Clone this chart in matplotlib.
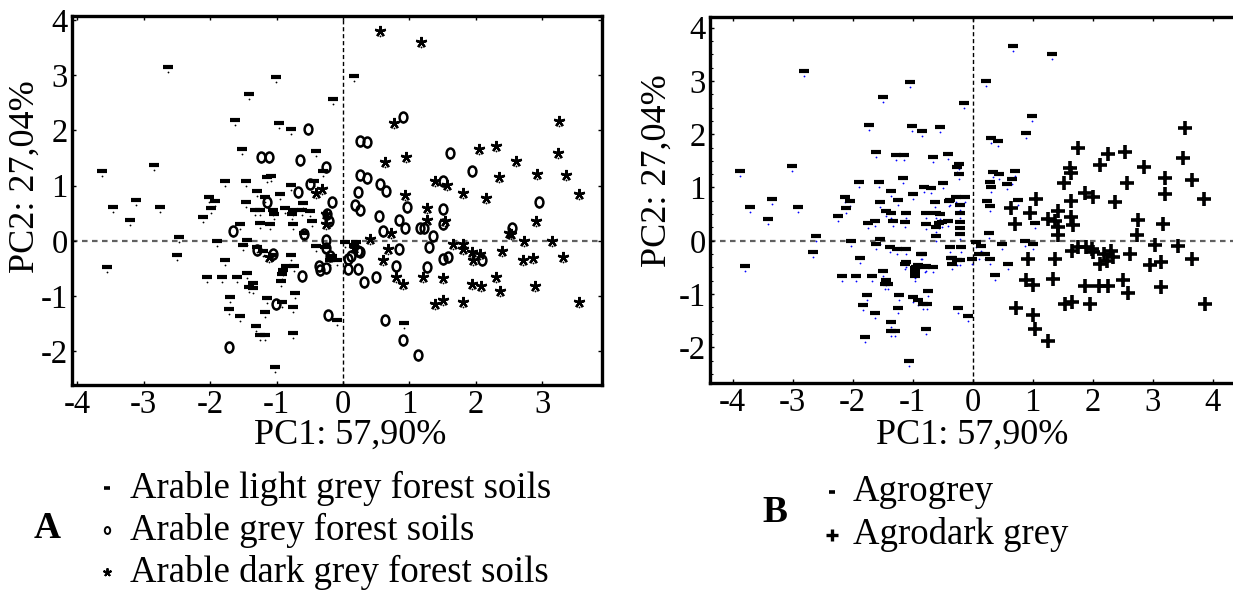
import numpy as np
import matplotlib.pyplot as plt
from matplotlib.lines import Line2D
from matplotlib.markers import MarkerStyle
from matplotlib.ticker import AutoMinorLocator
from matplotlib.transforms import Affine2D, ScaledTranslation

plt.rcParams['font.family'] = ['Liberation Serif', 'DejaVu Serif']
plt.rcParams['axes.unicode_minus'] = False

# ---- panel A: PC1 / PC2 scores by soil group ----
a_light = [(-3.63, 1.26), (-3.46, 0.61), (-3.56, -0.48), (-3.20, 0.37), (-3.12, 0.74), (-2.84, 1.38),
           (-2.75, 0.61), (-2.64, 3.15), (-2.47, 0.07), (-2.50, -0.25), (-2.11, 0.43), (-2.01, 0.79),
           (-1.92, 0.73), (-1.99, 0.59), (-1.90, -0.01), (-1.77, -0.35), (-2.05, -0.66), (-1.82, -0.66),
           (-1.59, -0.66), (-1.77, 1.08), (-1.46, 1.08), (-1.62, 2.18), (-1.52, 1.66), (-1.41, 2.66),
           (-1.01, 2.97), (-0.97, 2.13), (-0.79, 2.03), (-0.41, 1.62), (-0.15, 2.56), (0.17, 2.99),
           (-1.70, -1.01), (-1.72, -1.23), (-1.55, -1.36), (-1.31, -1.55), (-1.25, -1.71), (-1.18, -1.71),
           (-1.03, -2.28), (-0.76, -1.66), (-1.15, -1.03), (-1.17, -1.28), (-0.92, -1.11), (-0.75, -1.19),
           (-0.72, -0.95), (-1.45, -0.59), (-1.35, -0.77), (-1.41, -0.83), (-1.36, -0.85), (-0.90, -0.53),
           (-0.86, -0.46), (-0.74, -0.46), (-0.92, -0.60), (-0.79, -0.25), (-1.05, -0.25), (-1.20, -0.19),
           (-1.44, 0.01), (-1.50, -0.07), (-1.30, -0.11), (-1.55, 0.31), (-1.25, 0.33), (-1.10, 0.31),
           (-1.46, 0.70), (-1.32, 0.55), (-1.25, 0.55), (-1.30, 0.91), (-1.18, 0.79), (-1.06, 0.55),
           (-1.04, 0.49), (-0.95, 0.84), (-1.15, 1.15), (-1.09, 1.18), (-0.79, 1.01), (-0.75, 0.55),
           (-0.76, 0.31), (-0.60, 0.69), (-0.61, 0.55), (-0.50, 0.54), (-0.59, 0.15), (-0.47, 0.36),
           (-0.44, 1.08), (-0.30, 1.26), (-0.41, -0.09), (-0.27, -0.11), (-0.20, -0.35), (-0.09, -0.35),
           (-0.09, -1.43), (0.16, -0.08), (0.92, -1.48), (-0.77, 0.49), (-0.94, -0.72), (0.03, -0.03),
           (0.20, -0.03), (-0.17, -0.27), (-0.88, 0.60)]
a_grey = [(-0.52, 2.03), (-1.23, 1.51), (-1.11, 1.51), (-0.65, 1.47), (-0.26, 1.34), (-0.50, 1.02),
          (-0.68, 0.89), (-0.16, 0.70), (-1.15, 0.70), (-0.24, 0.48), (-0.21, 0.36), (-1.65, 0.18),
          (-0.59, 0.13), (-0.26, 0.01), (-0.26, -0.13), (-1.30, -0.17), (-1.05, -0.24), (-0.36, -0.45),
          (-0.25, -0.49), (-0.34, -0.53), (-0.62, -0.63), (-1.01, -1.15), (-0.23, -1.35), (-1.72, -1.92),
          (-0.20, -0.27), (0.07, -0.33), (0.08, -0.51), (0.23, -0.51), (0.31, -0.75), (0.49, -0.66),
          (0.26, -0.21), (0.26, 1.81), (0.36, 1.78), (0.26, 1.20), (0.36, 1.14), (0.22, 0.89),
          (0.18, 0.65), (0.25, 0.55), (0.56, 1.02), (0.65, 0.90), (0.54, 0.45), (0.61, 0.18),
          (0.85, -0.15), (0.80, -0.45), (0.90, 2.25), (0.85, 0.37), (0.93, 0.24), (0.96, 0.61),
          (0.63, -1.43), (0.91, -1.79), (1.61, 1.59), (1.95, 1.26), (1.50, 1.09), (1.50, 0.57),
          (1.50, 0.31), (1.16, 0.24), (1.22, 0.24), (1.35, 0.09), (1.30, -0.11), (1.51, -0.33),
          (1.58, -0.29), (1.27, -0.48), (2.10, -0.35), (2.54, 0.24), (2.95, 0.71), (1.13, -2.06),
          (0.12, -0.28), (0.23, -0.18)]
a_dark = [(0.56, 3.80), (1.18, 3.60), (0.77, 2.13), (0.63, 1.43), (0.95, 1.51), (0.93, 0.83),
          (1.27, 0.59), (1.26, 0.37), (1.53, 0.35), (1.38, 1.09), (1.56, 1.01), (2.05, 1.67),
          (2.31, 1.71), (1.81, 0.87), (2.16, 0.78), (2.35, 1.15), (2.60, 1.44), (2.92, 1.21),
          (3.25, 2.17), (3.23, 1.59), (3.36, 1.19), (3.55, 0.85), (2.91, 0.36), (2.50, 0.15),
          (2.72, -0.01), (3.15, -0.01), (3.32, -0.29), (2.86, -0.31), (2.71, -0.35), (2.39, -0.19),
          (1.65, -0.05), (1.80, -0.05), (1.81, -0.15), (1.94, -0.21), (1.96, -0.35), (2.06, -0.24),
          (1.95, -0.79), (2.08, -0.81), (2.31, -0.65), (2.37, -0.91), (2.89, -0.81), (3.56, -1.11),
          (1.81, -1.11), (1.51, -1.07), (1.38, -1.14), (1.50, -0.67), (1.20, -0.65), (0.90, -0.79),
          (0.80, -0.66), (0.61, -0.35), (0.68, -0.15), (0.73, 0.15), (0.40, 0.03), (0.17, -0.13),
          (-1.11, -0.30), (-0.41, 0.87), (-0.31, 0.93), (-0.26, 0.48), (-0.26, 0.31), (2.53, 0.12)]

# ---- panel B: agrogrey vs agrodark grey ----
b_grey = [(-3.88, 1.31), (-3.71, 0.63), (-3.80, -0.47), (-3.41, 0.40), (-3.34, 0.78), (-3.02, 1.40),
          (-2.91, 0.63), (-2.82, 3.18), (-2.62, 0.09), (-2.66, -0.22), (-2.24, 0.46), (-2.13, 0.83),
          (-2.05, 0.75), (-2.11, 0.61), (-2.03, -0.01), (-1.88, -0.33), (-2.18, -0.67), (-1.94, -0.67),
          (-1.68, -0.67), (-1.90, 1.11), (-1.57, 1.11), (-1.73, 2.18), (-1.62, 1.67), (-1.49, 2.69),
          (-1.04, 2.98), (-1.02, 2.16), (-0.84, 2.06), (-0.54, 2.14), (-0.66, 1.58), (-0.42, 1.62),
          (-1.28, 1.61), (-1.15, 1.61), (-1.17, 1.18), (-0.49, 1.09), (-0.27, 1.38), (-1.80, -1.81),
          (-1.77, -1.02), (-1.83, -1.21), (-1.63, -1.35), (-1.37, -1.53), (-1.37, -1.70), (-1.30, -1.70),
          (-1.06, -2.25), (-0.78, -1.66), (-1.23, -1.02), (-1.24, -1.27), (-0.99, -1.05), (-0.91, -1.11),
          (-0.76, -1.18), (-0.74, -0.95), (-1.49, -0.56), (-1.45, -0.74), (-1.47, -0.82), (-1.42, -0.82),
          (-0.97, -0.52), (-0.91, -0.46), (-0.78, -0.48), (-0.97, -0.61), (-0.84, -0.25), (-1.13, -0.44),
          (-1.26, -0.15), (-1.55, 0.04), (-1.61, -0.07), (-1.38, -0.11), (-1.11, -0.15), (-1.74, 0.33),
          (-1.63, 0.37), (-1.33, 0.37), (-1.13, 0.35), (-1.55, 0.73), (-1.44, 0.56), (-1.36, 0.53),
          (-1.37, 0.94), (-1.24, 0.77), (-1.11, 0.52), (-0.99, 0.87), (-0.81, 1.00), (-0.69, 0.99),
          (-0.78, 0.52), (-0.78, 0.31), (-0.63, 0.73), (-0.61, 0.52), (-0.55, 0.50), (-0.39, 0.74),
          (-0.51, 0.35), (-0.62, 0.26), (-0.41, 0.37), (-0.61, 0.08), (-0.38, -0.12), (-0.34, -0.32),
          (-0.27, -0.36), (-0.24, -1.27), (0.67, 3.66), (1.32, 3.50), (0.22, 3.00), (-0.15, 2.58),
          (0.99, 2.35), (0.88, 2.03), (0.31, 1.92), (0.42, 1.87), (-0.23, 1.45), (-0.23, 1.26),
          (-0.28, 0.83), (-0.13, 0.83), (-0.38, 0.76), (0.34, 1.29), (0.44, 1.25), (0.28, 1.11),
          (0.31, 1.01), (0.70, 1.30), (0.66, 1.15), (0.57, 1.06), (0.24, 0.75), (0.28, 0.66),
          (0.76, 0.76), (1.03, 0.33), (-0.22, 0.67), (-0.22, 0.52), (-0.22, 0.35), (-0.22, 0.24),
          (-0.22, 0.13), (-0.56, 0.34), (0.27, 0.14), (0.05, -0.02), (0.14, -0.10), (0.20, -0.25),
          (0.11, -0.25), (0.29, -0.35), (0.48, -0.06), (0.59, -0.44), (0.37, -0.64), (0.87, -0.01),
          (1.01, -0.07), (-0.36, -0.32), (-0.22, -0.37), (-0.02, -0.35), (-0.35, -0.44), (-0.19, -0.12),
          (-0.08, -1.41), (-0.83, -1.19), (-0.86, -0.24), (-1.11, -0.40), (-0.94, -0.49), (-0.80, -0.49),
          (-0.66, -0.49), (-0.96, -0.55), (-0.96, -0.67)]
b_dark = [(3.53, 2.11), (3.51, 1.56), (3.66, 1.14), (3.85, 0.79), (1.76, 1.75), (2.12, 1.42),
          (2.26, 1.62), (2.53, 1.67), (2.85, 1.39), (3.20, 1.18), (3.20, 0.87), (2.57, 1.09),
          (2.37, 0.73), (1.87, 0.89), (2.01, 0.83), (1.62, 1.36), (1.64, 1.28), (1.52, 1.09),
          (1.63, 0.74), (1.06, 0.78), (0.63, 0.61), (0.70, 0.31), (0.95, 0.53), (1.42, 0.55),
          (1.26, 0.40), (1.37, 0.38), (1.64, 0.44), (1.67, 0.29), (1.42, 0.26), (1.42, 0.11),
          (2.76, 0.39), (3.17, 0.31), (2.74, 0.11), (3.03, -0.08), (3.42, -0.10), (3.65, -0.35),
          (2.96, -0.45), (3.13, -0.40), (3.14, -0.86), (3.87, -1.18), (2.62, -0.24), (2.18, -0.24),
          (2.31, -0.19), (2.34, -0.31), (2.12, -0.43), (2.24, -0.38), (1.66, -0.19), (1.76, -0.12),
          (1.89, -0.12), (1.98, -0.15), (2.00, -0.21), (1.37, -0.35), (0.92, -0.34), (1.34, -0.71),
          (0.88, -0.74), (1.01, -0.83), (1.87, -0.85), (2.11, -0.85), (2.26, -0.85), (2.51, -0.73),
          (2.59, -0.98), (1.53, -1.19), (1.66, -1.15), (1.96, -1.18), (0.72, -1.27), (1.01, -1.39),
          (1.03, -1.66), (1.26, -1.89)]

a_labels = ['Arable light grey forest soils', 'Arable grey forest soils', 'Arable dark grey forest soils']
b_labels = ['Agrogrey', 'Agrodark grey']
x_label = 'PC1: 57,90%'
y_label = 'PC2: 27,04%'

# glyph styles (Statistica-like text markers)
oval = MarkerStyle('o', fillstyle='none', transform=Affine2D().scale(0.78, 1.0))
dash = dict(marker='_', ms=6.8, mew=3.0, color='black')
circ = dict(marker=oval, ms=7.2, mew=1.8, color='black', mfc='none')
star = dict(marker=(5, 2, 0), ms=8, mew=1.7, color='black')
plus = dict(marker='+', ms=10, mew=2.6, color='black')

W, H = 1233, 592
fig = plt.figure(figsize=(W / 100, H / 100), dpi=100)
fig.patch.set_facecolor('white')

axA = fig.add_axes([72 / W, 1 - 385 / H, 530 / W, 369 / H])
axB = fig.add_axes([710 / W, 1 - 383 / H, 540 / W, 366 / H])


def draw_group(ax, pts, style, dot_color):
    pts = np.array(pts)
    below = ax.transData + ScaledTranslation(0, -0.05, fig.dpi_scale_trans)
    ax.plot(pts[:, 0], pts[:, 1], ls='none', marker='o', ms=1.3, mew=0,
            color=dot_color, transform=below, zorder=2)
    ax.plot(pts[:, 0], pts[:, 1], ls='none', zorder=3, **style)


for ax in (axA, axB):
    ax.axhline(0, color='#606060', ls=(0, (2.5, 2)), lw=1.6, zorder=1)
    ax.axvline(0, color='black', ls=(0, (3, 2)), lw=1.0, zorder=1)
    for s in ax.spines.values():
        s.set_linewidth(2.4)
    ax.tick_params(direction='in', length=3, width=1, top=True, right=True,
                   labelsize=23.5, pad=3)
    ax.set_yticks([-2, -1, 0, 1, 2, 3, 4])
    ax.set_xlabel(x_label, fontsize=26)
    ax.set_ylabel(y_label, fontsize=26)

draw_group(axA, a_light, dash, 'black')
draw_group(axA, a_grey, circ, 'black')
draw_group(axA, a_dark, star, 'black')
axA.set_xlim(-4.08, 3.9)
axA.set_ylim(-2.61, 4.07)
axA.set_xticks([-4, -3, -2, -1, 0, 1, 2, 3])
axA.xaxis.set_label_coords((350 - 72) / 530, (385 - 419) / 369)
axA.yaxis.set_label_coords((42 - 72) / 530, (385 - 177) / 369)

draw_group(axB, b_grey, dash, 'blue')
draw_group(axB, b_dark, plus, 'blue')
axB.set_xlim(-4.38, 4.62)
axB.set_ylim(-2.67, 4.20)
axB.set_xticks([-4, -3, -2, -1, 0, 1, 2, 3, 4])
axB.yaxis.set_minor_locator(AutoMinorLocator(4))
axB.tick_params(which='minor', direction='in', length=2, width=0.8, right=True)
axB.spines['right'].set_visible(False)
axB.xaxis.set_label_coords((972 - 710) / 540, (383 - 419) / 366)
axB.yaxis.set_label_coords((674 - 710) / 540, (383 - 171) / 366)

# ---- legends below the panels ----
fig.text(47 / W, 1 - 528 / H, 'A', fontsize=27, fontweight='bold', ha='center', va='center')
a_styles = [dict(marker='_', ms=5, mew=2.6), dict(marker=oval, ms=5, mew=1.4, mfc='none'),
            dict(marker=(5, 2, 0), ms=6, mew=1.4)]
for i, (lab, st) in enumerate(zip(a_labels, a_styles)):
    yy = 1 - (488 + 42 * i) / H
    fig.add_artist(Line2D([107 / W], [yy], color='black', transform=fig.transFigure, **st))
    fig.text(130 / W, yy, lab, fontsize=26.5, ha='left', va='center')

fig.text(775 / W, 1 - 512 / H, 'B', fontsize=27, fontweight='bold', ha='center', va='center')
b_styles = [dict(marker='_', ms=5, mew=2.6), dict(marker='+', ms=8, mew=2.4)]
for i, (lab, st) in enumerate(zip(b_labels, b_styles)):
    yy = 1 - (492 + 43 * i) / H
    fig.add_artist(Line2D([832 / W], [yy], color='black', transform=fig.transFigure, **st))
    fig.text(853 / W, yy, lab, fontsize=26.5, ha='left', va='center')

fig.savefig('out.png', dpi=100, facecolor='white')
